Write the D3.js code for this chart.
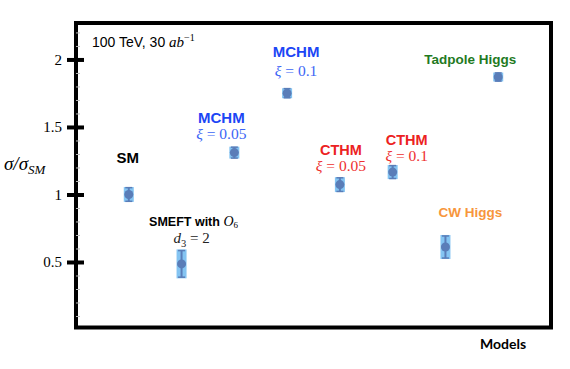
<!DOCTYPE html>
<html>
<head>
<meta charset="utf-8">
<script src="https://cdn.jsdelivr.net/npm/d3@7"></script>
<style>
  body { margin: 0; background: #fff; }
  svg { display: block; }
  .tick text { font-family: "Liberation Serif", "Times New Roman", serif; }
</style>
</head>
<body>
<div id="chart"></div>
<script>
    // Models and measured ratios sigma/sigma_SM
    const models = ['SM', 'SMEFT', 'MCHM05', 'MCHM1', 'CTHM05', 'CTHM1', 'CW', 'Tadpole']
    const ratio = [1.00, 0.486, 1.31, 1.75, 1.073, 1.166, 0.611, 1.87]
    const err = [0.055, 0.107, 0.044, 0.037, 0.055, 0.052, 0.089, 0.033]
    const majorTicks = [0.5, 1, 1.5, 2]
    const minorTicks = [0.1, 0.2, 0.3, 0.4, 0.6, 0.7, 0.8, 0.9, 1.1, 1.2, 1.3, 1.4, 1.6, 1.7, 1.8, 1.9, 2.1, 2.2]

    const W = 570, H = 369
    const mLeft = 76, mRight = 551, mTop = 23, mBottom = 329.5

    const svg = d3.select('#chart').append('svg')
        .attr('width', W)
        .attr('height', H)

    const x = d3.scalePoint() // one slot per model
        .domain(models)
        .range([mLeft, mRight])
        .padding(1)

    const y = d3.scaleLinear()
        .domain([0, 2.27])
        .range([mBottom, mTop])

    // frame
    svg.append('rect')
        .attr('x', mLeft).attr('y', mTop)
        .attr('width', mRight - mLeft).attr('height', mBottom - mTop - 2)
        .attr('fill', 'none')
        .attr('stroke', '#000')
        .attr('stroke-width', 4)

    // minor ticks (inside)
    svg.append('g')
        .attr('transform', `translate(${mLeft},0)`)
        .call(d3.axisRight(y).tickValues(minorTicks).tickSize(4).tickFormat(''))
        .call(g => g.select('.domain').remove())
        .call(g => g.selectAll('line').attr('stroke', '#bbb').attr('stroke-width', 1))

    // major ticks
    svg.append('g')
        .attr('transform', `translate(${mLeft + 8},0)`)
        .call(d3.axisLeft(y).tickValues(majorTicks).tickSize(17).tickPadding(5).tickFormat(d3.format('')))
        .call(g => g.select('.domain').remove())
        .call(g => g.selectAll('line').attr('stroke', '#000').attr('stroke-width', 4))
        .call(g => g.selectAll('text').attr('font-size', 15).attr('fill', '#000'))

    // y label
    const yl = svg.append('text')
        .attr('x', 4).attr('y', 170)
        .attr('font-family', 'Liberation Serif, serif')
        .attr('font-style', 'italic')
        .attr('font-size', 19)
    yl.append('tspan').text('σ/σ')
    yl.append('tspan').attr('font-size', 13).attr('dy', 4).text('SM')

    // x label
    svg.append('text')
        .attr('x', 503).attr('y', 349)
        .attr('text-anchor', 'middle')
        .attr('font-family', 'Lato, sans-serif')
        .attr('font-weight', 'bold')
        .attr('font-size', 14)
        .text('Models')

    // energy / lumi
    const en = svg.append('text')
        .attr('x', 92).attr('y', 47)
        .attr('font-family', 'Liberation Sans, Arial, sans-serif')
        .attr('font-size', 14)
    en.append('tspan').text('100 TeV, 30 ')
    en.append('tspan').attr('font-family', 'Liberation Serif, serif').attr('font-style', 'italic').attr('font-size', 15).text('ab')
    en.append('tspan').attr('font-family', 'Liberation Serif, serif').attr('font-size', 10).attr('dy', -6).text('−1')

    // points
    const pts = svg.append('g').selectAll('g')
        .data(models.map((m, i) => ({m: m, v: ratio[i], e: err[i]})))
        .enter().append('g')

    pts.append('rect') // uncertainty band
        .attr('x', d => x(d.m) - 5)
        .attr('y', d => y(d.v + d.e))
        .attr('width', 10)
        .attr('height', d => y(d.v - d.e) - y(d.v + d.e))
        .attr('fill', '#6fbaf0')
        .attr('opacity', 0.85)

    pts.append('line')
        .attr('x1', d => x(d.m)).attr('x2', d => x(d.m))
        .attr('y1', d => y(d.v + d.e * 0.92)).attr('y2', d => y(d.v - d.e * 0.92))
        .attr('stroke', '#5a7db8').attr('stroke-width', 2)

    pts.selectAll('.cap')
        .data(d => [d.v + d.e * 0.92, d.v - d.e * 0.92].map(v => ({m: d.m, v: v})))
        .enter().append('line')
        .attr('x1', d => x(d.m) - 3.5).attr('x2', d => x(d.m) + 3.5)
        .attr('y1', d => y(d.v)).attr('y2', d => y(d.v))
        .attr('stroke', '#5a7db8').attr('stroke-width', 1.5)

    pts.append('circle')
        .attr('cx', d => x(d.m))
        .attr('cy', d => y(d.v))
        .attr('r', 4.5)
        .attr('fill', '#5a7db8')

    // model labels: [model, dx, value at baseline, text, colour, size]
    const nameLabels = [
        ['SM', -1, 1.23, 'SM', '#000', 15],
        ['MCHM05', -13, 1.53, 'MCHM', '#1c46f5', 15],
        ['MCHM1', 9, 2.015, 'MCHM', '#1c46f5', 15],
        ['CTHM05', 1, 1.29, 'CTHM', '#ec2222', 14.5],
        ['CTHM1', 14, 1.365, 'CTHM', '#ec2222', 14.5],
        ['Tadpole', -28, 1.964, 'Tadpole Higgs', '#1f7a1f', 13.5],
        ['CW', 25, 0.834, 'CW Higgs', '#f7963c', 13.5]
    ]
    const xiLabels = [
        ['MCHM05', -13, 1.41, '0.05', '#3c66f5'],
        ['MCHM1', 9, 1.875, '0.1', '#3c66f5'],
        ['CTHM05', 1, 1.172, '0.05', '#ee3030'],
        ['CTHM1', 14, 1.247, '0.1', '#ee3030']
    ]

    svg.append('g').selectAll('text')
        .data(nameLabels)
        .enter().append('text')
        .attr('x', d => x(d[0]) + d[1])
        .attr('y', d => y(d[2]))
        .attr('text-anchor', 'middle')
        .attr('font-family', 'Liberation Sans, Arial, sans-serif')
        .attr('font-weight', 'bold')
        .attr('font-size', d => d[5])
        .attr('fill', d => d[4])
        .text(d => d[3])

    const xi = svg.append('g').selectAll('text')
        .data(xiLabels)
        .enter().append('text')
        .attr('x', d => x(d[0]) + d[1])
        .attr('y', d => y(d[2]))
        .attr('text-anchor', 'middle')
        .attr('font-family', 'Liberation Serif, serif')
        .attr('font-size', 15.5)
        .attr('fill', d => d[4])
    xi.append('tspan').attr('font-style', 'italic').text('ξ')
    xi.append('tspan').text(d => ' = ' + d[3])

    // SMEFT label
    const s1 = svg.append('text')
        .attr('x', x('SMEFT') + 12).attr('y', y(0.765))
        .attr('text-anchor', 'middle')
        .attr('font-family', 'Liberation Sans, Arial, sans-serif')
        .attr('font-size', 12.5)
        .attr('fill', '#000')
    s1.append('tspan').attr('font-weight', 'bold').text('SMEFT with ')
    s1.append('tspan').attr('font-family', 'Liberation Serif, serif').attr('font-style', 'italic').attr('font-size', 14).text('O')
    s1.append('tspan').attr('font-family', 'Liberation Serif, serif').attr('font-size', 9).attr('dy', 2).text('6')

    const s2 = svg.append('text')
        .attr('x', x('SMEFT') + 10).attr('y', y(0.64))
        .attr('text-anchor', 'middle')
        .attr('font-family', 'Liberation Serif, serif')
        .attr('font-size', 15)
        .attr('fill', '#222')
    s2.append('tspan').attr('font-style', 'italic').text('d')
    s2.append('tspan').attr('font-size', 10.5).attr('dy', 3.5).text('3')
    s2.append('tspan').attr('dy', -3.5).text(' = 2')
</script>
</body>
</html>
